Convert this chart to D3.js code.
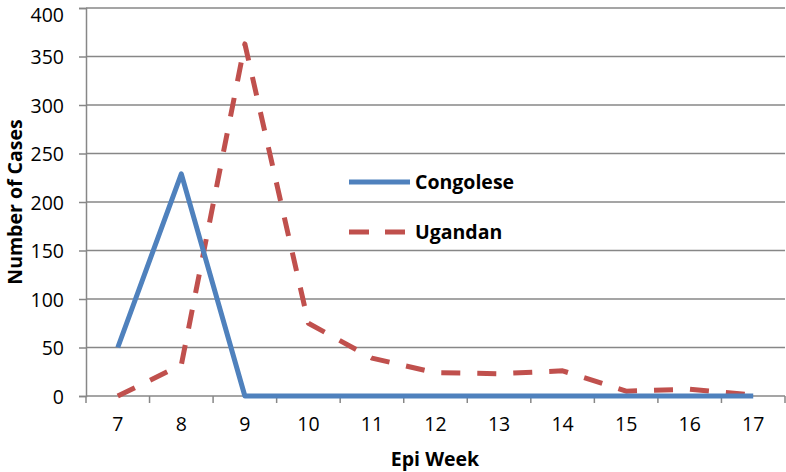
<!DOCTYPE html>
<html><head><meta charset="utf-8">
<script src="https://cdn.jsdelivr.net/npm/d3@7"></script>
<style>body{margin:0;background:#fff}svg{display:block}</style>
</head><body><svg id="c" width="786" height="472"></svg>
<script>
const weeks = ["7","8","9","10","11","12","13","14","15","16","17"];
const congolese = [50,229,0,0,0,0,0,0,0,0,0];
const ugandan = [0,32,363,75,39,24,23,26,5,7,1];
const yTicks = [0,50,100,150,200,250,300,350,400];
const seriesNames = ["Congolese","Ugandan"];

const svg = d3.select("#c");
const font = "'Open Sans', sans-serif";
const fs = 19.5;
const L = 86, R = 785, T = 8, B = 396;
const x = d3.scaleBand().domain(weeks).range([L, R]).padding(0);
const y = d3.scaleLinear().domain([0,400]).range([B, T]);
const grid = "#878787";

// gridlines
svg.append("g").selectAll("line").data(yTicks).join("line")
  .attr("x1", L).attr("x2", R).attr("y1", d=>y(d)).attr("y2", d=>y(d))
  .attr("stroke", grid).attr("stroke-width", 1.5);

// y axis
const ya = svg.append("g").attr("transform", `translate(${L},0)`)
  .call(d3.axisLeft(y).tickValues(yTicks).tickSize(7).tickPadding(15));
ya.select(".domain").attr("stroke", grid).attr("stroke-width", 1.5);
ya.selectAll(".tick line").attr("stroke", grid).attr("stroke-width", 1.5);
ya.selectAll("text").attr("font-family", font).attr("font-size", fs).attr("fill", "#000")
  .attr("dy", d => d === 400 ? "0.68em" : "0.36em");

// x axis
const xa = svg.append("g").attr("transform", `translate(0,${B})`)
  .call(d3.axisBottom(x).tickSize(0).tickPadding(21));
xa.select(".domain").remove();
xa.selectAll("text").attr("font-family", font).attr("font-size", fs).attr("fill", "#000");
// category boundary ticks
const bounds = weeks.map(w => x(w)).concat([x(weeks[weeks.length-1]) + x.bandwidth()]);
svg.append("g").selectAll("line").data(bounds).join("line")
  .attr("x1", d=>d).attr("x2", d=>d).attr("y1", B).attr("y2", B+7)
  .attr("stroke", grid).attr("stroke-width", 1.5);

const cx = w => x(w) + x.bandwidth()/2;
const line = d3.line().x((d,i)=>cx(weeks[i])).y(d=>y(d));

svg.append("path").datum(ugandan).attr("d", line)
  .attr("fill","none").attr("stroke","#c0504d").attr("stroke-width",5)
  .attr("stroke-dasharray","19,17").attr("stroke-linejoin","round");
svg.append("path").datum(congolese).attr("d", line)
  .attr("fill","none").attr("stroke","#4f81bd").attr("stroke-width",5)
  .attr("stroke-linejoin","round");

// legend
const lg = svg.append("g");
lg.append("line").attr("x1",349).attr("x2",410).attr("y1",182).attr("y2",182)
  .attr("stroke","#4f81bd").attr("stroke-width",5);
lg.append("line").attr("x1",349).attr("x2",410).attr("y1",232).attr("y2",232)
  .attr("stroke","#c0504d").attr("stroke-width",5).attr("stroke-dasharray","20,16");
lg.selectAll("text").data(seriesNames).join("text")
  .attr("x",415).attr("y",(d,i)=>182+i*50).attr("dy","0.35em")
  .attr("font-family",font).attr("font-weight","bold").attr("font-size",fs)
  .text(d=>d);

// axis titles
svg.append("text").attr("transform","translate(15,202) rotate(-90)")
  .attr("text-anchor","middle").attr("dy","0.35em")
  .attr("font-family",font).attr("font-weight","bold").attr("font-size",fs)
  .text("Number of Cases");
svg.append("text").attr("x",435).attr("y",459).attr("text-anchor","middle")
  .attr("dy","0.35em")
  .attr("font-family",font).attr("font-weight","bold").attr("font-size",fs)
  .text("Epi Week");
</script></body></html>
